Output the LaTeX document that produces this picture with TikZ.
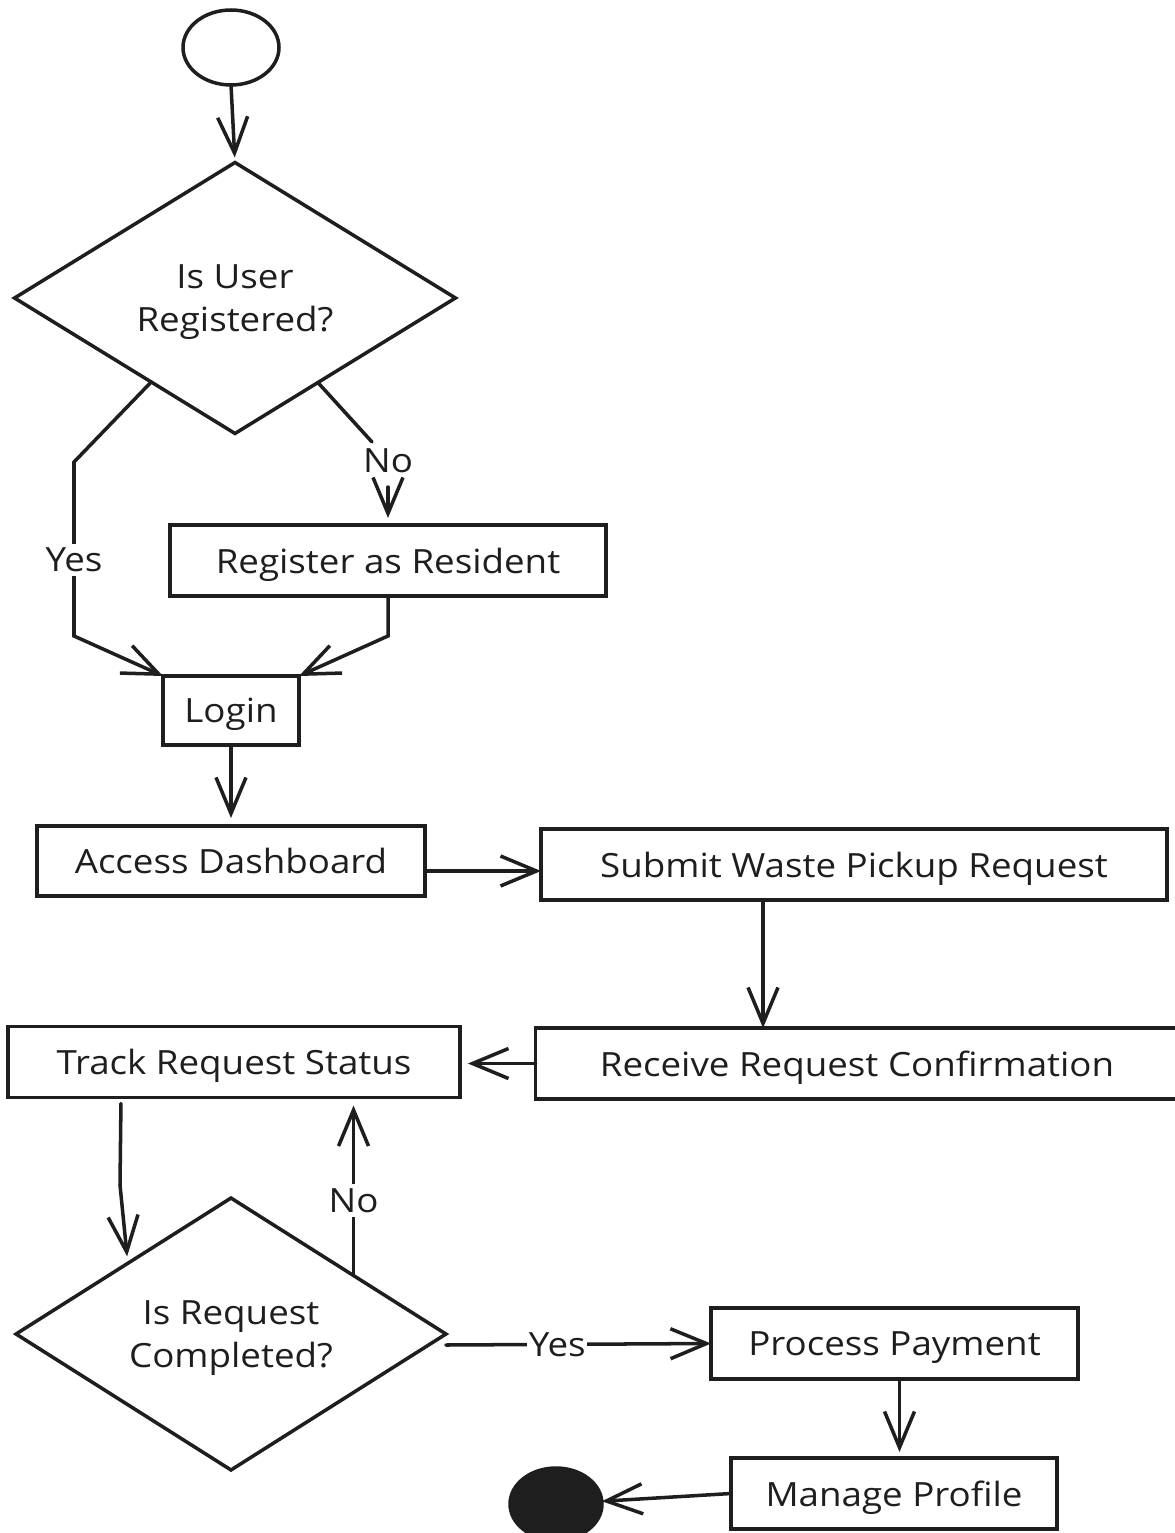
\documentclass[tikz,border=0pt]{standalone}
\usepackage{fontspec}
\setmainfont[FakeStretch=1.1]{Open Sans}
\usetikzlibrary{arrows.meta,shapes.geometric,calc}
\definecolor{ink}{HTML}{1E1E1E}
\begin{document}
\begin{tikzpicture}[x=0.02cm,y=-0.02cm,
  line width=2pt,
  every node/.style={font=\fontsize{19}{24.5}\selectfont, text=ink, text depth=0pt},
  box/.style={draw=ink, rectangle, inner sep=0pt, outer sep=0pt, minimum height=1.42cm},
  decision/.style={draw=ink, diamond, inner sep=0pt, outer sep=0pt, align=center},
  flow/.style={draw=ink, line cap=round, -{Straight Barb[length=0.72cm,width=0.6cm,line join=miter]}},
  link/.style={draw=ink, line cap=round},
  lbl/.style={fill=white, inner sep=0.25em}]

\useasboundingbox (0,0) rectangle (1175,1533);

% start and end states
\node[draw=ink, ellipse, inner sep=0pt, outer sep=0pt, minimum width=1.92cm, minimum height=1.5cm] (start) at (231,47.5) {};
\node[draw=ink, fill=ink, ellipse, inner sep=0pt, outer sep=0pt, minimum width=1.84cm, minimum height=1.44cm] (stop) at (556,1504) {};

% decisions
\node[decision, minimum width=8.82cm, minimum height=5.42cm] (d1) at (235,298) {Is User\\Registered?};
\node[decision, minimum width=8.6cm, minimum height=5.44cm] (d2) at (231,1334) {Is Request\\Completed?};

% activities
\node[box, minimum width=8.72cm] (reg) at (388,560.5) {Register as Resident};
\node[box, minimum width=2.72cm, minimum height=1.38cm] (login) at (231,710.5) {Login};
\node[box, minimum width=7.76cm, minimum height=1.4cm] (dash) at (231,861) {Access Dashboard};
\node[box, minimum width=12.52cm] (submit) at (854,864.5) {Submit Waste Pickup Request};
\node[box, minimum width=12.86cm] (recv) at (857,1063.5) {Receive Request Confirmation};
\node[box, minimum width=9.04cm] (track) at (234,1062) {Track Request Status};
\node[box, minimum width=7.34cm] (pay) at (894.5,1343.5) {Process Payment};
\node[box, minimum width=6.52cm] (profile) at (894,1493.5) {Manage Profile};

% branch points on the decision outlines
\coordinate (d1yes) at ($(d1.west)!0.62!(d1.south)$);
\coordinate (d1no) at ($(d1.east)!0.624!(d1.south)$);
\coordinate (d2in) at ($(d2.north)!0.48!(d2.west)$);
\coordinate (d2no) at ($(d2.north)!0.57!(d2.east)$);

% connectors
\draw[flow, shorten >=0.1cm] (start.south) -- (d1.north);

\draw[flow, line join=miter] (d1yes) -- (74,462) -- node[lbl, pos=0.563] {Yes} (74,636) -- (login.north west);

\draw[link] (d1no) -- (372,442);
\node[lbl] (nolbl) at (388,461) {No};
\draw[flow, shorten <=0.16cm, shorten >=0.14cm] (nolbl) -- (reg);

\draw[flow, line join=miter] (reg.south) -- ++(0,40) -- (login.north east);

\draw[flow, shorten >=0.16cm] (login) -- (dash);

\draw[flow] ([yshift=-0.2cm]dash.east) -- ([yshift=-0.2cm]dash.east -| submit.west);

\draw[flow] ([xshift=-1.82cm]submit.south) -- ([xshift=-1.82cm]submit.south |- recv.north);

\draw[flow, shorten >=0.16cm] (recv.west) -- (recv.west -| track.east);

\draw[flow, shorten <=0.12cm, shorten >=0.14cm] ([xshift=-2.26cm]track.south) -- (120,1185) -- (d2in);

\draw[flow, shorten >=0.16cm] (d2no) -- node[lbl, pos=0.42] {No} (d2no |- track.south);

\draw[flow] ([yshift=-0.22cm]d2.east) -- node[lbl, inner xsep=1pt, pos=0.42] {Yes} (pay.west);

\draw[flow, shorten >=0.12cm] ([xshift=0.1cm]pay.south) -- ([xshift=0.1cm]pay.south |- profile.north);

\draw[flow] (profile.west) -- (stop);
\end{tikzpicture}
\end{document}
